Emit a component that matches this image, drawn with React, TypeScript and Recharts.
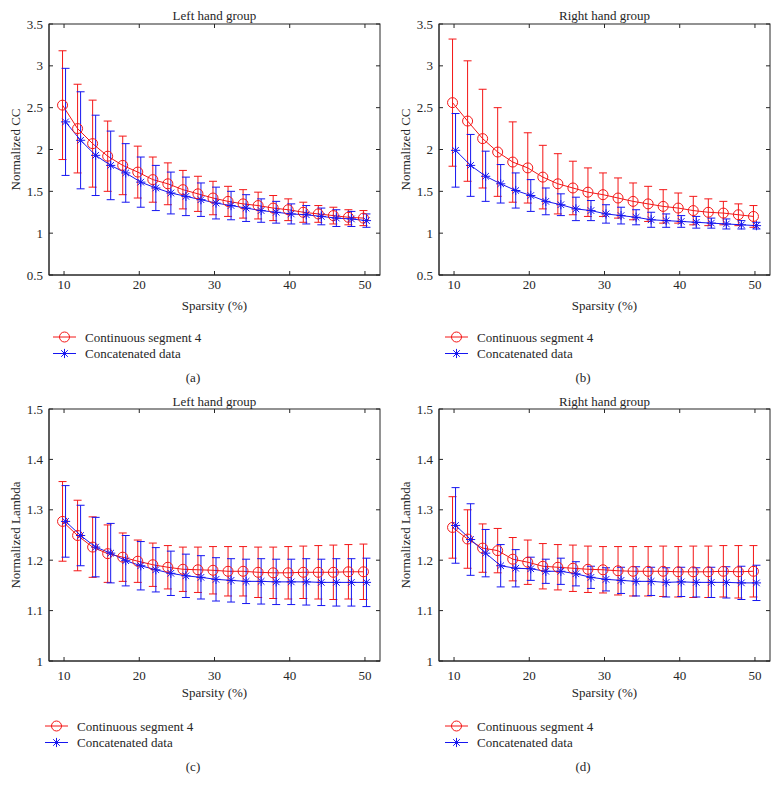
import React from "react";
import { ErrorBar, Line, LineChart, XAxis, YAxis } from "recharts";

const sparsity = [10, 12, 14, 16, 18, 20, 22, 24, 26, 28, 30, 32, 34, 36, 38, 40, 42, 44, 46, 48, 50];
const sparsityTicks = [10, 20, 30, 40, 50];
const ccTicks = [0.5, 1, 1.5, 2, 2.5, 3, 3.5];
const lambdaTicks = [1, 1.1, 1.2, 1.3, 1.4, 1.5];

// (a) left hand group, normalized CC
const ccLeftSeg = [2.53, 2.25, 2.07, 1.92, 1.81, 1.73, 1.64, 1.59, 1.52, 1.47, 1.42, 1.38, 1.35, 1.33, 1.3, 1.28, 1.25, 1.23, 1.21, 1.19, 1.18];
const ccLeftSegErr = [0.65, 0.53, 0.52, 0.42, 0.35, 0.31, 0.27, 0.25, 0.23, 0.21, 0.2, 0.18, 0.17, 0.16, 0.15, 0.13, 0.12, 0.1, 0.1, 0.09, 0.09];
const ccLeftCat = [2.33, 2.11, 1.93, 1.81, 1.72, 1.61, 1.54, 1.48, 1.44, 1.4, 1.36, 1.33, 1.3, 1.27, 1.25, 1.23, 1.22, 1.2, 1.18, 1.17, 1.15];
const ccLeftCatErr = [0.64, 0.58, 0.48, 0.41, 0.35, 0.3, 0.27, 0.25, 0.23, 0.2, 0.19, 0.17, 0.16, 0.14, 0.13, 0.12, 0.11, 0.1, 0.1, 0.09, 0.08];

// (b) right hand group, normalized CC
const ccRightSeg = [2.56, 2.34, 2.13, 1.97, 1.85, 1.78, 1.67, 1.59, 1.54, 1.49, 1.46, 1.42, 1.38, 1.35, 1.32, 1.3, 1.27, 1.25, 1.24, 1.22, 1.2];
const ccRightSegErr = [0.76, 0.72, 0.59, 0.53, 0.48, 0.42, 0.38, 0.36, 0.32, 0.29, 0.26, 0.24, 0.22, 0.21, 0.2, 0.18, 0.17, 0.16, 0.14, 0.13, 0.13];
const ccRightCat = [1.99, 1.81, 1.68, 1.59, 1.51, 1.45, 1.38, 1.34, 1.29, 1.27, 1.23, 1.21, 1.19, 1.16, 1.15, 1.14, 1.13, 1.12, 1.11, 1.1, 1.09];
const ccRightCatErr = [0.44, 0.37, 0.3, 0.23, 0.21, 0.19, 0.16, 0.13, 0.14, 0.12, 0.11, 0.1, 0.09, 0.09, 0.08, 0.07, 0.07, 0.06, 0.06, 0.05, 0.04];

// (c) left hand group, normalized lambda
const lambdaLeftSeg = [1.277, 1.249, 1.226, 1.213, 1.206, 1.198, 1.191, 1.186, 1.182, 1.181, 1.18, 1.178, 1.178, 1.176, 1.175, 1.175, 1.176, 1.176, 1.176, 1.177, 1.177];
const lambdaLeftSegErr = [0.079, 0.07, 0.06, 0.057, 0.048, 0.042, 0.043, 0.043, 0.044, 0.045, 0.047, 0.049, 0.049, 0.05, 0.051, 0.052, 0.052, 0.053, 0.054, 0.054, 0.055];
const lambdaLeftCat = [1.277, 1.249, 1.226, 1.214, 1.199, 1.189, 1.181, 1.174, 1.169, 1.166, 1.162, 1.16, 1.158, 1.158, 1.157, 1.157, 1.157, 1.156, 1.156, 1.156, 1.156];
const lambdaLeftCatErr = [0.071, 0.06, 0.059, 0.059, 0.05, 0.048, 0.044, 0.044, 0.043, 0.043, 0.043, 0.043, 0.044, 0.045, 0.045, 0.045, 0.046, 0.046, 0.047, 0.047, 0.048];

// (d) right hand group, normalized lambda
const lambdaRightSeg = [1.265, 1.242, 1.224, 1.219, 1.202, 1.196, 1.188, 1.186, 1.184, 1.182, 1.181, 1.179, 1.178, 1.178, 1.178, 1.177, 1.177, 1.177, 1.178, 1.177, 1.178];
const lambdaRightSegErr = [0.061, 0.058, 0.048, 0.044, 0.043, 0.044, 0.045, 0.045, 0.046, 0.046, 0.046, 0.048, 0.049, 0.049, 0.05, 0.05, 0.051, 0.051, 0.051, 0.052, 0.051];
const lambdaRightCat = [1.269, 1.241, 1.214, 1.189, 1.184, 1.183, 1.178, 1.178, 1.173, 1.166, 1.162, 1.16, 1.158, 1.158, 1.156, 1.157, 1.156, 1.156, 1.156, 1.155, 1.155];
const lambdaRightCatErr = [0.075, 0.071, 0.047, 0.042, 0.037, 0.023, 0.024, 0.026, 0.024, 0.022, 0.023, 0.026, 0.029, 0.028, 0.029, 0.029, 0.029, 0.03, 0.031, 0.033, 0.035];

const RED = "#f41616";
const BLUE = "#1616f0";
const INK = "#262626";
const FONT = '"Liberation Serif", "DejaVu Serif", serif';
const DODGE = 0.2; // the two series sit a little apart on x
const X_DOMAIN = [8, 52];
const PLOT_LEFT = 49;
const PLOT_RIGHT = 380;

function circleDot(color: string) {
  return (p: any) => {
    if (p.cx == null || p.cy == null) return <g key={`c${p.index}`} />;
    return <circle key={`c${p.index}`} cx={p.cx} cy={p.cy} r={5} fill="none" stroke={color} strokeWidth={1} />;
  };
}

function Asterisk({ cx, cy, color }: { cx: number; cy: number; color: string }) {
  const s = 4.6;
  const d = 3.3;
  return (
    <g stroke={color} strokeWidth={1}>
      <line x1={cx - s} y1={cy} x2={cx + s} y2={cy} />
      <line x1={cx} y1={cy - s} x2={cx} y2={cy + s} />
      <line x1={cx - d} y1={cy - d} x2={cx + d} y2={cy + d} />
      <line x1={cx - d} y1={cy + d} x2={cx + d} y2={cy - d} />
    </g>
  );
}

function starDot(color: string) {
  return (p: any) => {
    if (p.cx == null || p.cy == null) return <g key={`s${p.index}`} />;
    return (
      <g key={`s${p.index}`}>
        <Asterisk cx={p.cx} cy={p.cy} color={color} />
      </g>
    );
  };
}

type PanelProps = {
  left: number;
  top: number;
  title: string;
  yLabel: string;
  caption: string;
  yTicks: number[];
  seg: number[];
  segErr: number[];
  cat: number[];
  catErr: number[];
  plotTop: number;
  plotBottom: number;
  tickGap: number;
  titleY: number;
  xLabelY: number;
  legendX: number;
  legendY: number;
  captionY: number;
};

function Panel(p: PanelProps) {
  const segData = sparsity.map((s, i) => ({ x: s - DODGE, y: p.seg[i], err: p.segErr[i] }));
  const catData = sparsity.map((s, i) => ({ x: s + DODGE, y: p.cat[i], err: p.catErr[i] }));
  const yMin = p.yTicks[0];
  const yMax = p.yTicks[p.yTicks.length - 1];
  const height = p.plotBottom + 30;
  const midY = (p.plotTop + p.plotBottom) / 2;
  const tickStyle = { fill: INK, fontSize: 13, fontFamily: FONT };

  // MATLAB-style box with inward ticks on all four sides
  const px = (v: number) => PLOT_LEFT + ((v - X_DOMAIN[0]) / (X_DOMAIN[1] - X_DOMAIN[0])) * (PLOT_RIGHT - PLOT_LEFT);
  const py = (v: number) => p.plotTop + ((yMax - v) / (yMax - yMin)) * (p.plotBottom - p.plotTop);

  return (
    <div style={{ position: "absolute", left: p.left, top: p.top, width: 390, height: 400 }}>
      <LineChart width={390} height={height} margin={{ top: p.plotTop, right: 390 - PLOT_RIGHT, bottom: 0, left: 0 }}>
        <XAxis
          dataKey="x"
          type="number"
          domain={X_DOMAIN}
          ticks={sparsityTicks}
          interval={0}
          allowDataOverflow
          height={30}
          tickLine={false}
          tickMargin={p.tickGap - 11}
          stroke={INK}
          tick={tickStyle}
        />
        <YAxis
          type="number"
          domain={[yMin, yMax]}
          ticks={p.yTicks}
          interval={0}
          allowDataOverflow
          width={PLOT_LEFT}
          tickLine={false}
          tickMargin={0}
          stroke={INK}
          tick={tickStyle}
        />
        <Line
          data={segData}
          dataKey="y"
          stroke={RED}
          strokeWidth={1}
          dot={circleDot(RED)}
          activeDot={false}
          isAnimationActive={false}
        >
          <ErrorBar dataKey="err" direction="y" width={4} stroke={RED} strokeWidth={1} isAnimationActive={false} />
        </Line>
        <Line
          data={catData}
          dataKey="y"
          stroke={BLUE}
          strokeWidth={1}
          dot={starDot(BLUE)}
          activeDot={false}
          isAnimationActive={false}
        >
          <ErrorBar dataKey="err" direction="y" width={4} stroke={BLUE} strokeWidth={1} isAnimationActive={false} />
        </Line>
      </LineChart>

      <svg
        width={390}
        height={400}
        style={{ position: "absolute", left: 0, top: 0, pointerEvents: "none" }}
        fontFamily={FONT}
        fontSize={13}
        fill={INK}
      >
        <rect
          x={PLOT_LEFT}
          y={p.plotTop}
          width={PLOT_RIGHT - PLOT_LEFT}
          height={p.plotBottom - p.plotTop}
          fill="none"
          stroke={INK}
          strokeWidth={1}
        />
        <g stroke={INK} strokeWidth={1}>
          {sparsityTicks.map((v) => (
            <g key={`xt${v}`}>
              <line x1={px(v)} y1={p.plotBottom} x2={px(v)} y2={p.plotBottom - 4} />
              <line x1={px(v)} y1={p.plotTop} x2={px(v)} y2={p.plotTop + 4} />
            </g>
          ))}
          {p.yTicks.map((v) => (
            <g key={`yt${v}`}>
              <line x1={PLOT_LEFT} y1={py(v)} x2={PLOT_LEFT + 4} y2={py(v)} />
              <line x1={PLOT_RIGHT} y1={py(v)} x2={PLOT_RIGHT - 4} y2={py(v)} />
            </g>
          ))}
        </g>

        <text x={214.5} y={p.titleY} textAnchor="middle" dominantBaseline="central">
          {p.title}
        </text>
        <text transform={`translate(15, ${midY}) rotate(-90)`} textAnchor="middle" dominantBaseline="central">
          {p.yLabel}
        </text>
        <text x={214.5} y={p.xLabelY} textAnchor="middle" dominantBaseline="central">
          Sparsity (%)
        </text>

        <line x1={p.legendX} y1={p.legendY} x2={p.legendX + 23} y2={p.legendY} stroke={RED} strokeWidth={1} />
        <circle cx={p.legendX + 11.5} cy={p.legendY} r={5} fill="none" stroke={RED} strokeWidth={1} />
        <text x={p.legendX + 32} y={p.legendY} dominantBaseline="central">
          Continuous segment 4
        </text>
        <line x1={p.legendX} y1={p.legendY + 16.5} x2={p.legendX + 23} y2={p.legendY + 16.5} stroke={BLUE} strokeWidth={1} />
        <Asterisk cx={p.legendX + 11.5} cy={p.legendY + 16.5} color={BLUE} />
        <text x={p.legendX + 32} y={p.legendY + 16.5} dominantBaseline="central">
          Concatenated data
        </text>

        <text x={193} y={p.captionY} textAnchor="middle" dominantBaseline="central">
          {p.caption}
        </text>
      </svg>
    </div>
  );
}

export default function App() {
  const topRow = { plotTop: 24, plotBottom: 275, tickGap: 10, titleY: 15, xLabelY: 305, legendY: 337, captionY: 377 };
  const bottomRow = { plotTop: 19, plotBottom: 271, tickGap: 15, titleY: 11, xLabelY: 302, legendY: 336, captionY: 376 };

  return (
    <div style={{ position: "absolute", left: 0, top: 0, width: 779, height: 792, background: "#fff", overflow: "hidden" }}>
      <Panel
        left={0}
        top={0}
        title="Left hand group"
        yLabel="Normalized CC"
        caption="(a)"
        yTicks={ccTicks}
        seg={ccLeftSeg}
        segErr={ccLeftSegErr}
        cat={ccLeftCat}
        catErr={ccLeftCatErr}
        legendX={53}
        {...topRow}
      />
      <Panel
        left={390}
        top={0}
        title="Right hand group"
        yLabel="Normalized CC"
        caption="(b)"
        yTicks={ccTicks}
        seg={ccRightSeg}
        segErr={ccRightSegErr}
        cat={ccRightCat}
        catErr={ccRightCatErr}
        legendX={55}
        {...topRow}
      />
      <Panel
        left={0}
        top={390}
        title="Left hand group"
        yLabel="Normalized Lambda"
        caption="(c)"
        yTicks={lambdaTicks}
        seg={lambdaLeftSeg}
        segErr={lambdaLeftSegErr}
        cat={lambdaLeftCat}
        catErr={lambdaLeftCatErr}
        legendX={45}
        {...bottomRow}
      />
      <Panel
        left={390}
        top={390}
        title="Right hand group"
        yLabel="Normalized Lambda"
        caption="(d)"
        yTicks={lambdaTicks}
        seg={lambdaRightSeg}
        segErr={lambdaRightSegErr}
        cat={lambdaRightCat}
        catErr={lambdaRightCatErr}
        legendX={55}
        {...bottomRow}
      />
    </div>
  );
}
